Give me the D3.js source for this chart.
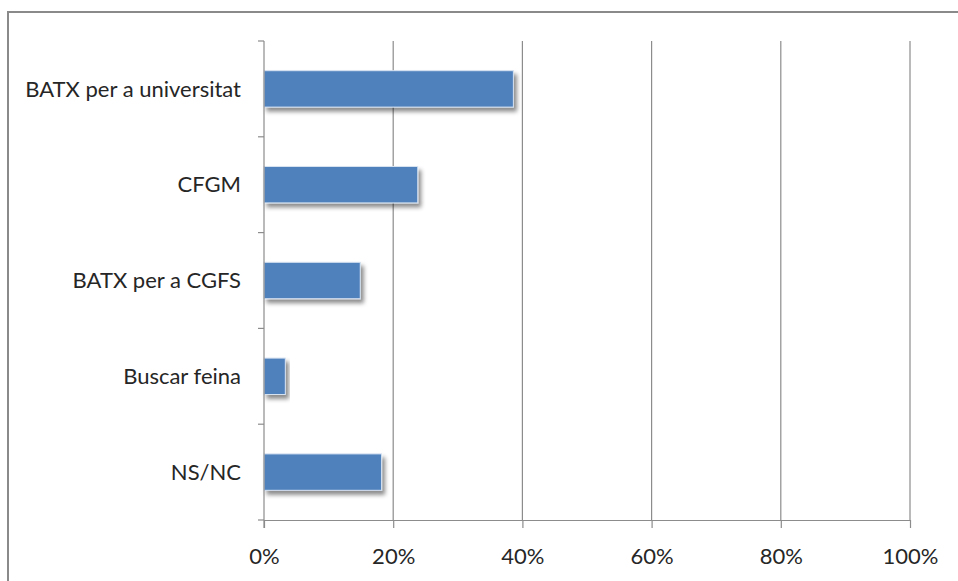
<!DOCTYPE html>
<html><head><meta charset="utf-8">
<script src="https://cdn.jsdelivr.net/npm/d3@7"></script>
<style>body{margin:0;background:#fff}svg{display:block}</style>
</head><body>
<svg id="c" width="958" height="581"></svg>
<script>
const categories = ["BATX per a universitat","CFGM","BATX per a CGFS","Buscar feina","NS/NC"];
const values = [0.386, 0.238, 0.149, 0.033, 0.182];
const xTicks = [0, 0.2, 0.4, 0.6, 0.8, 1.0];

const svg = d3.select("#c");
const defs = svg.append("defs");
const f = defs.append("filter").attr("id","sh").attr("x","-10%").attr("y","-20%").attr("width","130%").attr("height","170%");
f.append("feDropShadow").attr("dx",3).attr("dy",4).attr("stdDeviation",2.2).attr("flood-color","#000").attr("flood-opacity",0.45);

svg.append("rect").attr("x",8).attr("y",12).attr("width",1100).attr("height",1000)
  .attr("fill","none").attr("stroke","#8a8a8a").attr("stroke-width",2);

const x = d3.scaleLinear().domain([0,1]).range([264,910]);
const y = d3.scaleBand().domain(categories).range([41,520]).paddingInner(0.62).paddingOuter(0.31);
const grey = "#8c8c8c";
const font = "Lato, 'Liberation Sans', Arial, sans-serif";
const fs = "22px";

// gridlines
svg.append("g").selectAll("line").data(xTicks.slice(1)).join("line")
  .attr("x1",d=>x(d)).attr("x2",d=>x(d)).attr("y1",41).attr("y2",520)
  .attr("stroke",grey).attr("stroke-width",1.2);

// bars
svg.append("g").selectAll("rect").data(values).join("rect")
  .attr("x",x(0)).attr("y",(d,i)=>y(categories[i]))
  .attr("width",d=>x(d)-x(0)).attr("height",y.bandwidth())
  .attr("fill","#4f81bd").attr("stroke","#d6e2f0").attr("stroke-width",1)
  .attr("filter","url(#sh)");

// x axis
const xa = svg.append("g").attr("transform","translate(0,520)")
  .call(d3.axisBottom(x).tickValues(xTicks).tickFormat(d3.format(".0%")).tickSizeInner(8).tickSizeOuter(0).tickPadding(20));
xa.select(".domain").attr("stroke",grey).attr("stroke-width",1.2);
xa.selectAll(".tick line").attr("stroke",grey).attr("stroke-width",1.2);
xa.selectAll("text").attr("font-family",font).attr("font-size",fs).attr("fill","#262626");

// y axis
const yScaleTicks = d3.scaleLinear().domain([0,categories.length]).range([41,520]);
const ya = svg.append("g").attr("transform","translate(264,0)");
ya.append("line").attr("x1",0).attr("x2",0).attr("y1",41).attr("y2",528).attr("stroke",grey).attr("stroke-width",1.2);
ya.selectAll("line.t").data(d3.range(categories.length+1)).join("line").attr("class","t")
  .attr("x1",-6).attr("x2",0).attr("y1",d=>yScaleTicks(d)).attr("y2",d=>yScaleTicks(d))
  .attr("stroke",grey).attr("stroke-width",1.2);
ya.selectAll("text").data(categories).join("text")
  .attr("x",-23).attr("y",d=>y(d)+y.bandwidth()/2).attr("dy","0.35em")
  .attr("text-anchor","end").attr("font-family",font).attr("font-size",fs).attr("fill","#262626")
  .text(d=>d);
</script>
</body></html>
